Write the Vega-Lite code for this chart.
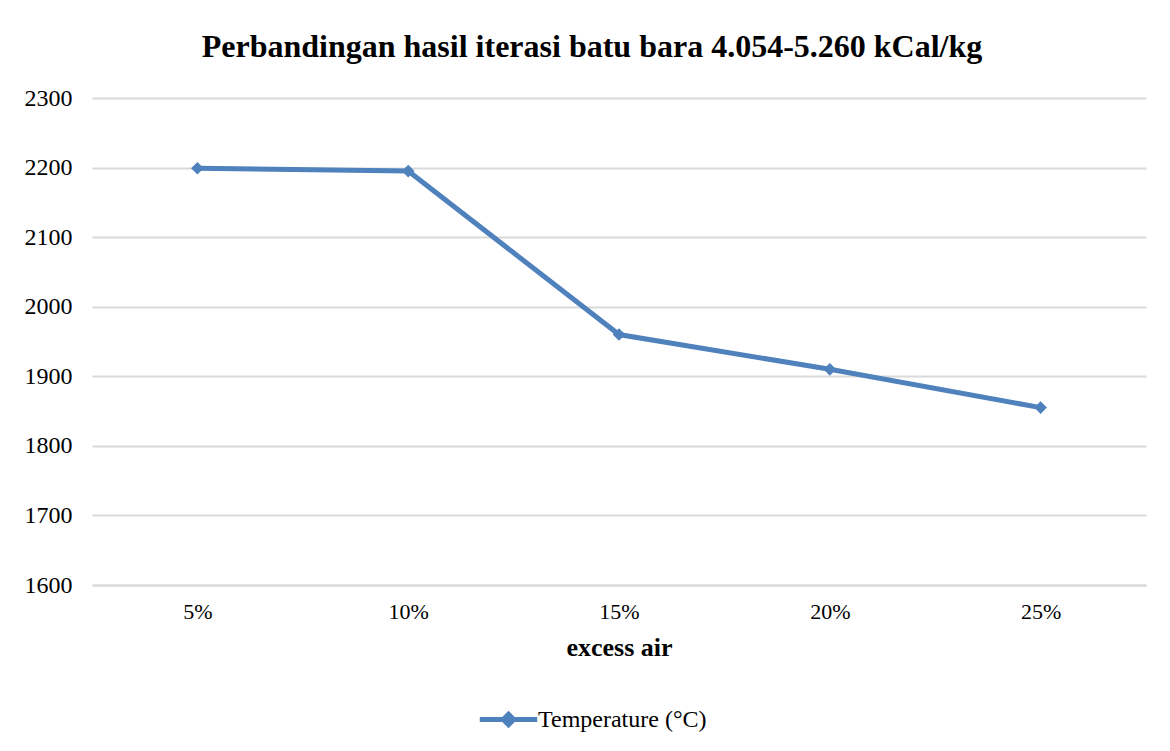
{
  "$schema": "https://vega.github.io/schema/vega-lite/v6.json",
  "autosize": "none",
  "width": 1054,
  "height": 487,
  "padding": {"left": 92, "top": 98, "right": 24, "bottom": 166},
  "background": "white",
  "title": {
    "text": "Perbandingan hasil iterasi batu bara 4.054-5.260 kCal/kg",
    "font": "Liberation Serif",
    "fontSize": 32,
    "fontWeight": "bold",
    "color": "#000000",
    "anchor": "middle",
    "dx": -27,
    "offset": 22
  },
  "data": {
    "values": [
      {"excess": "5%", "temp": 2199, "series": "Temperature (°C)"},
      {"excess": "10%", "temp": 2195, "series": "Temperature (°C)"},
      {"excess": "15%", "temp": 1960, "series": "Temperature (°C)"},
      {"excess": "20%", "temp": 1910, "series": "Temperature (°C)"},
      {"excess": "25%", "temp": 1855, "series": "Temperature (°C)"}
    ]
  },
  "encoding": {
    "x": {
      "field": "excess",
      "type": "ordinal",
      "sort": null,
      "scale": {"type": "point", "padding": 0.5},
      "axis": {
        "title": "excess air",
        "titleFont": "Liberation Serif",
        "titleFontSize": 26,
        "titleFontWeight": "bold",
        "titleColor": "#000000",
        "titlePadding": 12,
        "labelFont": "Liberation Serif",
        "labelFontSize": 22,
        "labelColor": "#000000",
        "labelAngle": 0,
        "labelPadding": 16,
        "ticks": false,
        "domainColor": "#d9d9d9",
        "domainWidth": 2,
        "grid": false
      }
    },
    "y": {
      "field": "temp",
      "type": "quantitative",
      "scale": {"domain": [1600, 2300], "nice": false, "zero": false},
      "axis": {
        "title": null,
        "format": "d",
        "values": [1600, 1700, 1800, 1900, 2000, 2100, 2200, 2300],
        "labelFont": "Liberation Serif",
        "labelFontSize": 24,
        "labelColor": "#000000",
        "labelPadding": 20,
        "ticks": false,
        "domain": false,
        "grid": true,
        "gridColor": "#d9d9d9",
        "gridWidth": 2
      }
    },
    "color": {
      "field": "series",
      "type": "nominal",
      "scale": {"range": ["#4f81bd"]},
      "legend": {
        "title": null,
        "orient": "none",
        "legendX": 385,
        "legendY": 590,
        "labelFont": "Liberation Serif",
        "labelFontSize": 24,
        "labelColor": "#000000",
        "labelLimit": 400,
        "symbolType": "M-1,0L1,0M0,-0.18L0.18,0L0,0.18L-0.18,0Z",
        "symbolSize": 3300,
        "symbolStrokeWidth": 5,
        "symbolFillColor": "#4f81bd",
        "symbolStrokeColor": "#4f81bd",
        "labelOffset": -2
      }
    }
  },
  "layer": [
    {"mark": {"type": "line", "strokeWidth": 5, "color": "#4f81bd"}},
    {"mark": {"type": "point", "shape": "diamond", "filled": true, "size": 160, "opacity": 1, "color": "#4f81bd"}}
  ],
  "config": {"view": {"stroke": null}}
}
